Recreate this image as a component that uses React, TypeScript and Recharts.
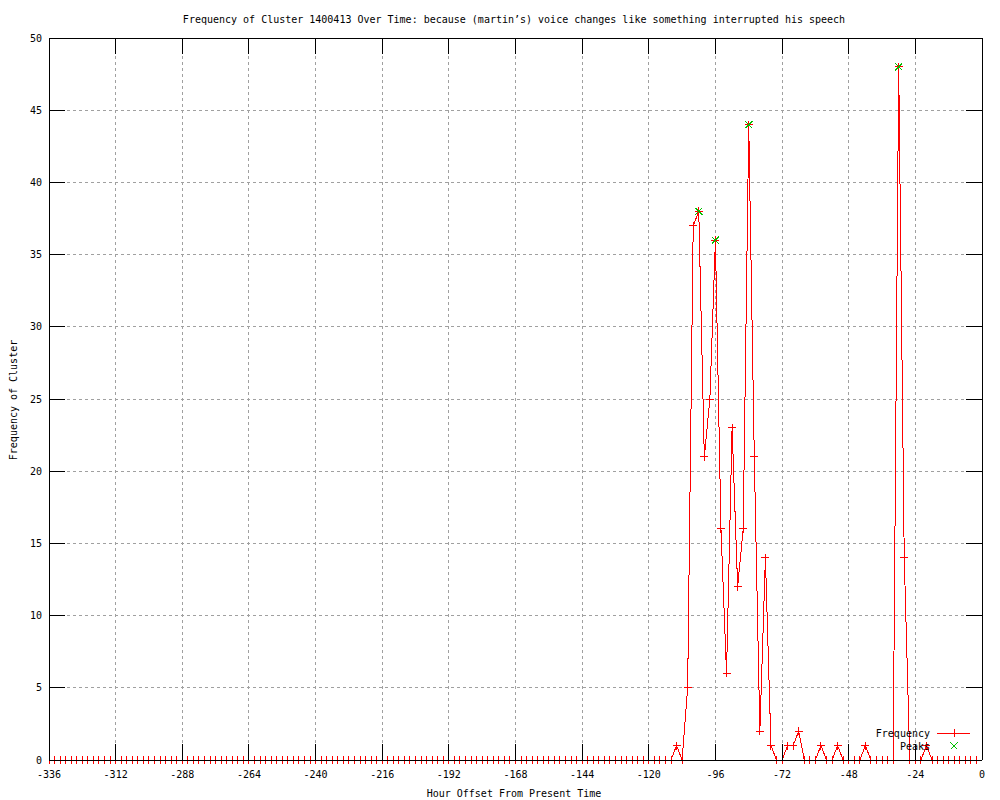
import { ComposedChart, Line, Scatter, XAxis, YAxis, CartesianGrid, ReferenceLine } from 'recharts'

// sample times, every 2 hours
const hours = [
  -336, -334, -332, -330, -328, -326, -324, -322, -320, -318, -316, -314,
  -312, -310, -308, -306, -304, -302, -300, -298, -296, -294, -292, -290,
  -288, -286, -284, -282, -280, -278, -276, -274, -272, -270, -268, -266,
  -264, -262, -260, -258, -256, -254, -252, -250, -248, -246, -244, -242,
  -240, -238, -236, -234, -232, -230, -228, -226, -224, -222, -220, -218,
  -216, -214, -212, -210, -208, -206, -204, -202, -200, -198, -196, -194,
  -192, -190, -188, -186, -184, -182, -180, -178, -176, -174, -172, -170,
  -168, -166, -164, -162, -160, -158, -156, -154, -152, -150, -148, -146,
  -144, -142, -140, -138, -136, -134, -132, -130, -128, -126, -124, -122,
  -120, -118, -116, -114, -112, -110, -108, -106, -104, -102, -100, -98,
  -96, -94, -92, -90, -88, -86, -84, -82, -80, -78, -76, -74,
  -72, -70, -68, -66, -64, -62, -60, -58, -56, -54, -52, -50,
  -48, -46, -44, -42, -40, -38, -36, -34, -32, -30, -28, -26,
  -24, -22, -20, -18, -16, -14, -12, -10, -8, -6, -4, -2,
  0,
]

const frequency = [
  0, 0, 0, 0, 0, 0, 0, 0, 0, 0, 0, 0,
  0, 0, 0, 0, 0, 0, 0, 0, 0, 0, 0, 0,
  0, 0, 0, 0, 0, 0, 0, 0, 0, 0, 0, 0,
  0, 0, 0, 0, 0, 0, 0, 0, 0, 0, 0, 0,
  0, 0, 0, 0, 0, 0, 0, 0, 0, 0, 0, 0,
  0, 0, 0, 0, 0, 0, 0, 0, 0, 0, 0, 0,
  0, 0, 0, 0, 0, 0, 0, 0, 0, 0, 0, 0,
  0, 0, 0, 0, 0, 0, 0, 0, 0, 0, 0, 0,
  0, 0, 0, 0, 0, 0, 0, 0, 0, 0, 0, 0,
  0, 0, 0, 0, 0, 1, 0, 5, 37, 38, 21, 25,
  36, 16, 6, 23, 12, 16, 44, 21, 2, 14, 1, 0,
  0, 1, 1, 2, 0, 0, 0, 1, 0, 0, 1, 0,
  0, 0, 0, 1, 0, 0, 0, 0, 0, 48, 14, 0,
  0, 0, 1, 0, 0, 0, 0, 0, 0, 0, 0, 0,
  0,
]

const peakHours = [-102, -96, -84, -30]
const peakValues = [38, 36, 44, 48]

const xTicks = [-336, -312, -288, -264, -240, -216, -192, -168, -144, -120, -96, -72, -48, -24, 0]
const yTicks = [0, 5, 10, 15, 20, 25, 30, 35, 40, 45, 50]

const rows = hours.map((h, i) => ({ hour: h, freq: frequency[i] }))
const peaks = peakHours.map((h, i) => ({ hour: h, peak: peakValues[i] }))

const FONT = '"DejaVu Sans Mono", monospace'
const RED = '#ff0000'
const GREEN = '#00c000'
const TICK = 16

function Plus(props: any) {
  const { cx, cy } = props
  if (cx == null || cy == null) return null
  return <path d={`M${cx - 4},${cy}H${cx + 4}M${cx},${cy - 4}V${cy + 4}`} stroke={RED} strokeWidth={1} fill="none" />
}

function Cross(props: any) {
  const { cx, cy } = props
  if (cx == null || cy == null) return null
  return (
    <path
      d={`M${cx - 3.5},${cy - 3.5}L${cx + 3.5},${cy + 3.5}M${cx - 3.5},${cy + 3.5}L${cx + 3.5},${cy - 3.5}`}
      stroke={GREEN} strokeWidth={1} fill="none"
    />
  )
}

// gnuplot style ticks: short inward marks at both ends of a reference line
function VTicks({ x1, y1, y2 }: any) {
  if (x1 == null) return null
  const top = Math.min(y1, y2)
  const bot = Math.max(y1, y2)
  return (
    <g>
      <line x1={x1} y1={top} x2={x1} y2={top + TICK} stroke="#000" />
      <line x1={x1} y1={bot} x2={x1} y2={bot - TICK} stroke="#000" />
    </g>
  )
}
function HTicks({ x1, x2, y1 }: any) {
  if (y1 == null) return null
  const left = Math.min(x1, x2)
  const right = Math.max(x1, x2)
  return (
    <g>
      <line x1={left} y1={y1} x2={left + TICK} y2={y1} stroke="#000" />
      <line x1={right} y1={y1} x2={right - TICK} y2={y1} stroke="#000" />
    </g>
  )
}

function BottomLabel({ x, y, payload }: any) {
  return <text x={x} y={y + 14} textAnchor="middle" dominantBaseline="central" fontSize={10} fontFamily={FONT} fill="#000">{payload.value}</text>
}
function LeftLabel({ x, y, payload }: any) {
  return <text x={x - 7} y={y} textAnchor="end" dominantBaseline="central" fontSize={10} fontFamily={FONT} fill="#000">{payload.value}</text>
}

export default function App() {
  return (
    <div style={{ position: 'absolute', left: 0, top: 0, width: 1000, height: 800, background: '#fff' }}>
      <ComposedChart width={1000} height={800} data={rows} margin={{ top: 8, right: 0, left: 0, bottom: 0 }}
        style={{ shapeRendering: 'crispEdges' }}>
        <CartesianGrid stroke="#a0a0a0" strokeDasharray="3 3" />
        <Line dataKey="freq" stroke={RED} strokeWidth={1} dot={<Plus />} activeDot={false} isAnimationActive={false} />
        <Scatter data={peaks} dataKey="peak" shape={<Cross />} isAnimationActive={false} />
        {xTicks.map((t) => <ReferenceLine key={`x${t}`} x={t} shape={<VTicks />} zIndex={900} />)}
        {yTicks.map((t) => <ReferenceLine key={`y${t}`} y={t} shape={<HTicks />} zIndex={900} />)}
        <ReferenceLine y={0} stroke="#000" zIndex={900} />
        <XAxis dataKey="hour" type="number" domain={[-336, 0]} ticks={xTicks} allowDataOverflow height={40}
          tick={<BottomLabel />} tickSize={0} tickMargin={0} tickLine={false} axisLine={{ stroke: '#000' }} interval={0} zIndex={900} />
        <XAxis xAxisId="top" orientation="top" dataKey="hour" type="number" domain={[-336, 0]} ticks={xTicks} allowDataOverflow
          height={30} tick={false} tickLine={false} axisLine={{ stroke: '#000' }} zIndex={900} />
        <YAxis type="number" domain={[0, 50]} ticks={yTicks} width={49} tick={<LeftLabel />} tickSize={0} tickMargin={0}
          tickLine={false} axisLine={{ stroke: '#000' }} interval={0} zIndex={900} />
        <YAxis yAxisId="right" orientation="right" type="number" domain={[0, 50]} ticks={yTicks} width={18} tick={false}
          tickLine={false} axisLine={{ stroke: '#000' }} zIndex={900} />
      </ComposedChart>
      <svg width={1000} height={800} style={{ position: 'absolute', left: 0, top: 0, pointerEvents: 'none', shapeRendering: 'crispEdges' }}
        fontFamily={FONT} fontSize={10}>
        <text x={514} y={19} textAnchor="middle" dominantBaseline="central">
          Frequency of Cluster 1400413 Over Time: because (martin’s) voice changes like something interrupted his speech
        </text>
        <text x={514} y={793} textAnchor="middle" dominantBaseline="central">Hour Offset From Present Time</text>
        <text x={13} y={400} textAnchor="middle" dominantBaseline="central" transform="rotate(-90 13 400)">Frequency of Cluster</text>
        <text x={930} y={733} textAnchor="end" dominantBaseline="central">Frequency</text>
        <line x1={937} y1={733} x2={970} y2={733} stroke={RED} />
        <Plus cx={954} cy={733} />
        <text x={930} y={746} textAnchor="end" dominantBaseline="central">Peaks</text>
        <Cross cx={954} cy={746} />
      </svg>
    </div>
  )
}
